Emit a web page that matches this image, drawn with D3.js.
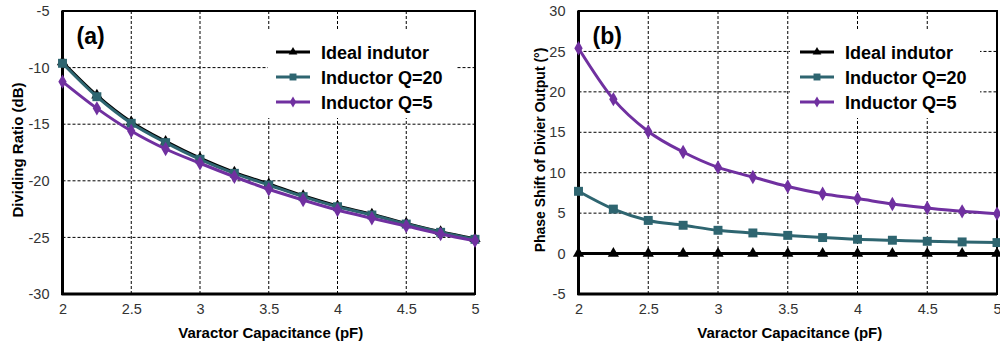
<!DOCTYPE html>
<html>
<head>
<meta charset="utf-8">
<script src="https://cdn.jsdelivr.net/npm/d3@7"></script>
<style>
  body { margin: 0; background: #fff; }
  svg { font-family: "Liberation Sans", Arial, sans-serif; }
</style>
</head>
<body>
<svg width="1000" height="347"></svg>
<script>
// capacitance values (pF)
var caps = [2, 2.25, 2.5, 2.75, 3, 3.25, 3.5, 3.75, 4, 4.25, 4.5, 4.75, 5];

// (a) dividing ratio, dB
var ratioIdeal = [-9.5, -12.45, -14.8, -16.52, -18.0, -19.25, -20.28, -21.32, -22.22, -22.95, -23.76, -24.5, -25.12];
var ratioQ20 = [-9.62, -12.57, -14.92, -16.63, -18.1, -19.34, -20.37, -21.4, -22.29, -23.02, -23.82, -24.55, -25.17];
var ratioQ5 = [-11.24, -13.6, -15.6, -17.19, -18.45, -19.64, -20.75, -21.7, -22.58, -23.31, -23.99, -24.7, -25.29];

// (b) phase shift, degrees
var phaseIdeal = [0, 0, 0, 0, 0, 0, 0, 0, 0, 0, 0, 0, 0];
var phaseQ20 = [7.7, 5.5, 4.1, 3.5, 2.88, 2.55, 2.25, 1.98, 1.77, 1.65, 1.52, 1.44, 1.36];
var phaseQ5 = [25.4, 19.1, 15.1, 12.56, 10.66, 9.47, 8.3, 7.4, 6.8, 6.13, 5.64, 5.22, 4.94];

var seriesNames = ["Ideal indutor", "Inductor Q=20", "Inductor Q=5"];
var xTicks = [2, 2.5, 3, 3.5, 4, 4.5, 5];
var yTicksA = [-30, -25, -20, -15, -10, -5];
var yTicksB = [-5, 0, 5, 10, 15, 20, 25, 30];

var colors = ["#000000", "#2e6570", "#7030a0"];
var shapes = [d3.symbolTriangle, d3.symbolSquare, d3.symbolDiamond];
var sizes = [55, 80, 60];

var svg = d3.select("svg");

// plain hyphen for negatives, like the original
var fmt = d => String(d);

function drawPanel(opt) {
    var x = d3.scaleLinear().domain([2, 5]).range([opt.left, opt.right]);
    var y = d3.scaleLinear().domain(opt.yDomain).range([opt.bottom, opt.top]);
    var g = svg.append("g");

    // grid
    g.selectAll(".vgrid").data(xTicks.slice(1, -1)).enter().append("line")
        .attr("x1", d => x(d)).attr("x2", d => x(d))
        .attr("y1", opt.top).attr("y2", opt.bottom)
        .attr("stroke", "#000").attr("stroke-width", 1).attr("stroke-dasharray", "3,2");
    g.selectAll(".hgrid").data(opt.yTicks.slice(1, -1)).enter().append("line")
        .attr("x1", opt.left).attr("x2", opt.right)
        .attr("y1", d => y(d)).attr("y2", d => y(d))
        .attr("stroke", "#000").attr("stroke-width", 1).attr("stroke-dasharray", "3,2");

    // frame
    g.append("rect")
        .attr("x", opt.left).attr("y", opt.top)
        .attr("width", opt.right - opt.left).attr("height", opt.bottom - opt.top)
        .attr("fill", "none").attr("stroke", "#000").attr("stroke-width", 2);

    // legend background (covers grid)
    g.append("rect")
        .attr("x", opt.legend.x0).attr("y", opt.legend.y0)
        .attr("width", opt.legend.w).attr("height", opt.legend.h)
        .attr("fill", "#fff");

    // axes
    var xAxis = d3.axisBottom(x).tickValues(xTicks).tickSize(0).tickPadding(10).tickFormat(fmt);
    var yAxis = d3.axisLeft(y).tickValues(opt.yTicks).tickSize(0).tickPadding(13).tickFormat(fmt);

    var xa = g.append("g").attr("transform", "translate(0," + opt.bottom + ")").call(xAxis);
    var ya = g.append("g").attr("transform", "translate(" + opt.left + ",0)").call(yAxis);
    [xa, ya].forEach(a => {
        a.select(".domain").remove();
        a.selectAll("text").attr("font-size", 14.5).attr("fill", "#333")
            .attr("font-family", "Liberation Sans, Arial, sans-serif");
    });
    g.append("line").attr("x1", opt.left - 1).attr("x2", opt.right)
        .attr("y1", opt.bottom).attr("y2", opt.bottom)
        .attr("stroke", "#000").attr("stroke-width", 3);
    g.append("line").attr("x1", opt.left).attr("x2", opt.left)
        .attr("y1", opt.top).attr("y2", opt.bottom + 1)
        .attr("stroke", "#000").attr("stroke-width", 3);

    // series
    var line = d3.line().x((d, i) => x(caps[i])).y(d => y(d)).curve(d3.curveMonotoneX);
    opt.series.forEach(function(vals, s) {
        g.append("path").datum(vals)
            .attr("d", line)
            .attr("fill", "none").attr("stroke", colors[s]).attr("stroke-width", 3);
        g.selectAll(".m" + s).data(vals).enter().append("path")
            .attr("d", d3.symbol().type(shapes[s]).size(sizes[s]))
            .attr("transform", (d, i) => "translate(" + x(caps[i]) + "," + y(d) + ")")
            .attr("fill", colors[s]);
    });

    // legend
    seriesNames.forEach(function(name, s) {
        var ly = opt.legend.y + s * 25;
        g.append("line")
            .attr("x1", opt.legend.lx).attr("x2", opt.legend.lx + 34)
            .attr("y1", ly).attr("y2", ly)
            .attr("stroke", colors[s]).attr("stroke-width", 3);
        g.append("path")
            .attr("d", d3.symbol().type(shapes[s]).size(sizes[s] * 0.6))
            .attr("transform", "translate(" + (opt.legend.lx + 17) + "," + ly + ")")
            .attr("fill", colors[s]);
        g.append("text")
            .attr("x", opt.legend.lx + 45).attr("y", ly + 6.5)
            .attr("font-size", 18).attr("font-weight", "bold").attr("fill", "#000")
            .text(name);
    });

    // panel tag
    g.append("text")
        .attr("x", opt.left + 14).attr("y", 44)
        .attr("font-size", 23).attr("font-weight", "bold")
        .text(opt.tag);

    // axis titles
    g.append("text")
        .attr("x", (opt.left + opt.right) / 2 + 2).attr("y", 338)
        .attr("text-anchor", "middle").attr("font-size", 15).attr("font-weight", "bold")
        .text("Varactor Capacitance (pF)");
    g.append("text")
        .attr("transform", "translate(" + opt.yTitleX + ",150) rotate(-90)")
        .attr("text-anchor", "middle").attr("font-size", opt.yTitleSize).attr("font-weight", "bold")
        .text(opt.yTitle);
}

drawPanel({
    left: 62.5, right: 475, top: 11, bottom: 294,
    yDomain: [-30, -5], yTicks: yTicksA,
    series: [ratioIdeal, ratioQ20, ratioQ5],
    legend: { x0: 268, y0: 30, w: 188, h: 88, lx: 276, y: 52 },
    tag: "(a)", yTitleX: 23, yTitle: "Dividing Ratio (dB)", yTitleSize: 15
});

drawPanel({
    left: 578.5, right: 997, top: 11, bottom: 294,
    yDomain: [-5, 30], yTicks: yTicksB,
    series: [phaseIdeal, phaseQ20, phaseQ5],
    legend: { x0: 790, y0: 30, w: 190, h: 88, lx: 800, y: 52 },
    tag: "(b)", yTitleX: 545, yTitle: "Phase Shift of Divier Output (°)", yTitleSize: 14
});
</script>
</body>
</html>
